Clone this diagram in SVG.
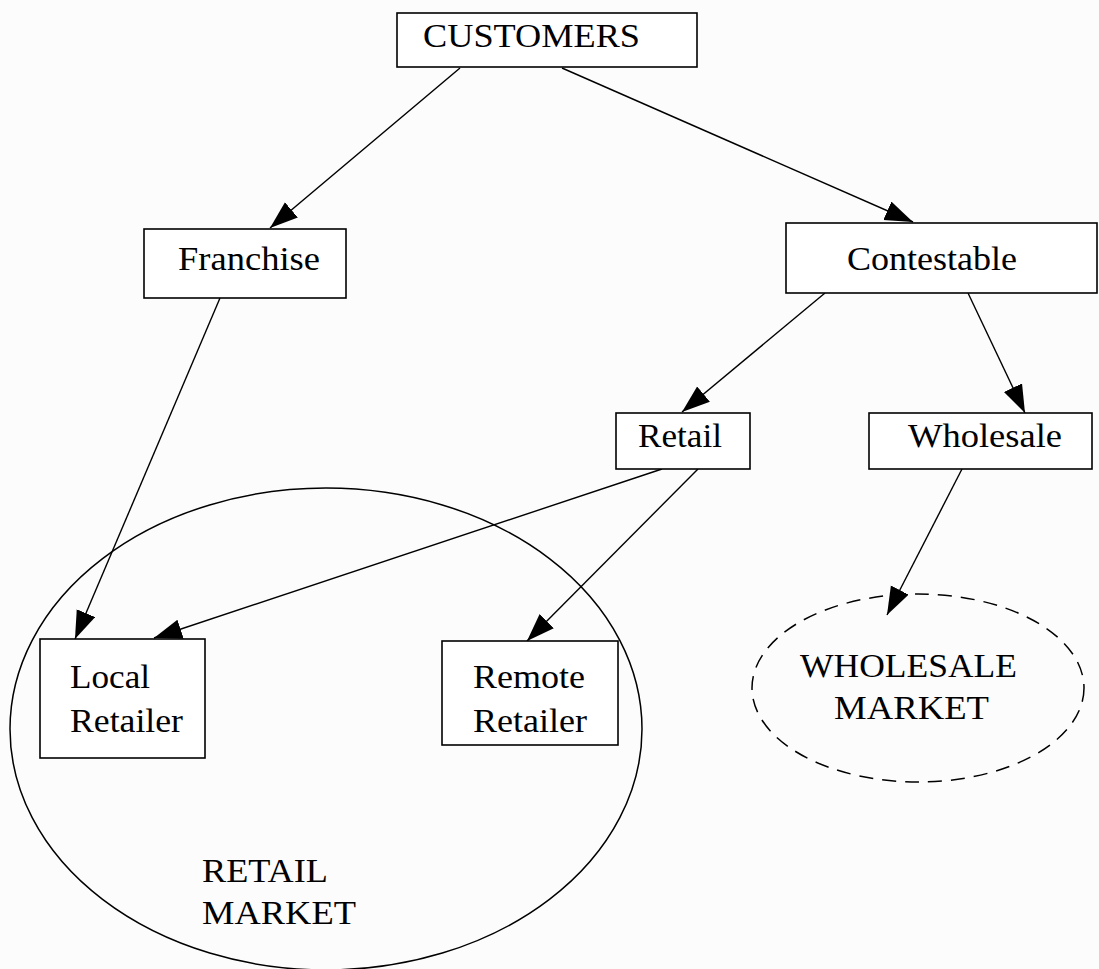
<svg xmlns="http://www.w3.org/2000/svg" width="1099" height="969" viewBox="0 0 1099 969">
<style>
.box{fill:#ffffff;stroke:#000;stroke-width:1.6}
.lbl{font-family:"Liberation Serif","Times New Roman",serif;font-size:33px;fill:#000}
.edge{stroke:#000;stroke-width:1.4;fill:none;marker-end:url(#arr)}
.mkt{fill:none;stroke:#000;stroke-width:1.5}
</style>
<defs>
<marker id="arr" markerUnits="userSpaceOnUse" markerWidth="30" markerHeight="22" refX="28" refY="10" orient="auto">
<path d="M0,0 L28,10 L0,20 z" fill="#000"/>
</marker>
</defs>
<rect width="1099" height="969" fill="#fcfcfc"/>
<g id="retail-market">
<ellipse class="mkt" cx="326" cy="729" rx="316" ry="241"/>
<text class="lbl" x="202" y="882" textLength="126" lengthAdjust="spacingAndGlyphs">RETAIL</text>
<text class="lbl" x="202" y="924" textLength="154" lengthAdjust="spacingAndGlyphs">MARKET</text>
</g>
<g id="wholesale-market">
<ellipse class="mkt" cx="918" cy="688" rx="166" ry="94" stroke-dasharray="14 9"/>
<text class="lbl" x="800" y="677" textLength="217" lengthAdjust="spacingAndGlyphs">WHOLESALE</text>
<text class="lbl" x="834" y="719" textLength="155" lengthAdjust="spacingAndGlyphs">MARKET</text>
</g>
<g id="connectors">
<line class="edge" x1="460" y1="68" x2="270" y2="228"/>
<line class="edge" x1="562" y1="68" x2="913" y2="222"/>
<line class="edge" x1="220" y1="298" x2="75" y2="639"/>
<line class="edge" x1="825" y1="293" x2="682" y2="412"/>
<line class="edge" x1="968" y1="293" x2="1025" y2="413"/>
<line class="edge" x1="662" y1="469" x2="154" y2="638"/>
<line class="edge" x1="698" y1="469" x2="527" y2="641"/>
<line class="edge" x1="962" y1="469" x2="887" y2="615"/>
</g>
<g id="customers">
<rect class="box" x="397" y="13" width="300" height="54"/>
<text class="lbl" x="423" y="47" font-size="29" textLength="217" lengthAdjust="spacingAndGlyphs">CUSTOMERS</text>
</g>
<g id="franchise">
<rect class="box" x="144" y="229" width="202" height="69"/>
<text class="lbl" x="178" y="270" textLength="142" lengthAdjust="spacingAndGlyphs">Franchise</text>
</g>
<g id="contestable">
<rect class="box" x="786" y="223" width="311" height="70"/>
<text class="lbl" x="847" y="270" textLength="170" lengthAdjust="spacingAndGlyphs">Contestable</text>
</g>
<g id="retail">
<rect class="box" x="616" y="413" width="134" height="56"/>
<text class="lbl" x="638" y="447" textLength="84" lengthAdjust="spacingAndGlyphs">Retail</text>
</g>
<g id="wholesale">
<rect class="box" x="869" y="413" width="223" height="56"/>
<text class="lbl" x="908" y="447" textLength="154" lengthAdjust="spacingAndGlyphs">Wholesale</text>
</g>
<g id="local-retailer">
<rect class="box" x="40" y="639" width="165" height="119"/>
<text class="lbl" x="70" y="688" textLength="80" lengthAdjust="spacingAndGlyphs">Local</text>
<text class="lbl" x="70" y="732" textLength="113" lengthAdjust="spacingAndGlyphs">Retailer</text>
</g>
<g id="remote-retailer">
<rect class="box" x="442" y="641" width="176" height="104"/>
<text class="lbl" x="473" y="688" textLength="112" lengthAdjust="spacingAndGlyphs">Remote</text>
<text class="lbl" x="473" y="732" textLength="114" lengthAdjust="spacingAndGlyphs">Retailer</text>
</g>
</svg>
